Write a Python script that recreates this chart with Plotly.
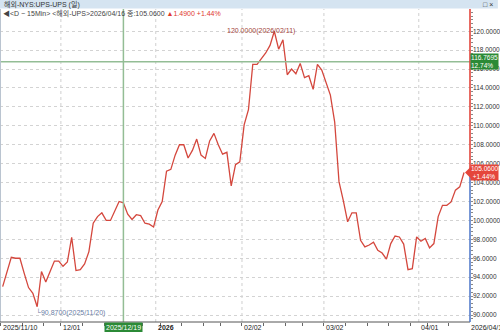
import plotly.graph_objects as go
import pandas as pd

# ---------------- data ----------------
holidays = ["2025-11-27", "2025-12-25", "2026-01-01", "2026-01-19", "2026-02-16", "2026-04-03"]
dates = [d.strftime("%Y-%m-%d") for d in pd.bdate_range("2025-11-10", "2026-04-16")
         if d.strftime("%Y-%m-%d") not in holidays]

close = [
    93.0, 94.7, 96.1, 96.0, 96.0, 94.4, 92.9, 92.3, 90.87, 94.6,
    93.5, 94.6, 95.7, 95.7, 95.15, 95.6, 98.2, 94.7, 94.8, 95.4,
    96.7, 99.7, 100.4, 100.8, 100.0, 100.0, 101.0, 102.0, 101.85, 100.65,
    100.1, 100.6, 100.5, 99.7, 99.6, 99.3, 101.1, 102.0, 105.2, 105.4,
    106.9, 108.0, 108.0, 106.6, 107.4, 108.6, 106.9, 106.55, 108.4, 109.2,
    108.0, 107.0, 107.2, 103.65, 105.9, 106.2, 110.1, 111.7, 116.5, 116.5,
    117.1, 117.7, 118.5, 120.0, 118.1, 119.1, 115.4, 116.0, 115.5, 116.6,
    115.1, 115.3, 113.85, 116.5, 115.9, 114.65, 113.25, 110.4, 104.1, 102.1,
    99.85, 100.8, 100.8, 97.9, 97.2, 97.4, 97.7, 96.85, 96.55, 95.9,
    97.55, 98.35, 98.25, 97.5, 94.8, 94.9, 98.25, 97.8, 98.1, 97.1,
    97.55, 100.4, 101.6, 101.6, 101.95, 103.2, 103.55, 105.06,
]

y_ticks = [90, 92, 94, 96, 98, 100, 102, 104, 106, 108, 110, 112, 114, 116, 118, 120]
month_labels = {
    "2025-11-10": "2025/11/10",
    "2025-12-01": "12/01",
    "2026-01-02": "<b>2026</b>",
    "2026-02-02": "02/02",
    "2026-03-02": "03/02",
    "2026-04-01": "04/01",
}
last_label = "2026/04/16"
cross_date = "2025-12-19"
cross_price = 116.7695
cross_pct = "12.74%"
last_close = 105.06
change = 1.49
change_pct = "+1.44%"
title_text = "해외-NYS:UPS-UPS (일)"

# ---------------- layout helpers ----------------
W, H = 500, 332
PL, PR, PT, PB = 0, 472, 9, 321.7   # plot area in pixels
def px(x):
    return (x - PL) / (PR - PL)
def py(y):
    return (PB - y) / (PB - PT)

xs = list(range(len(dates)))
hi_i = max(xs, key=lambda i: close[i])
lo_i = min(xs, key=lambda i: close[i])
cross_i = dates.index(cross_date)

week_starts = [i for i in xs if i == 0 or pd.Timestamp(dates[i]).weekday() < pd.Timestamp(dates[i - 1]).weekday()]
month_idx = [dates.index(d) for d in month_labels]

RED = "#d4473d"
GREEN_LINE = "#93bd95"
GREEN_BOX = "#2b8a36"
BLUE = "#4a74c9"
FONT = "Liberation Sans, Noto Sans CJK KR, sans-serif"

fig = go.Figure()
fig.add_trace(go.Scatter(x=xs, y=close, mode="lines",
                         line=dict(color=RED, width=1.3), hoverinfo="skip"))

shapes = []
# month dotted gridlines
for i in month_idx[1:]:
    shapes.append(dict(type="line", xref="x", yref="paper", x0=i - 0.5, x1=i - 0.5, y0=0, y1=1,
                       line=dict(color="#cfcfcf", width=1, dash="dot"), layer="below"))
# crosshair
shapes.append(dict(type="line", xref="x", yref="paper", x0=cross_i, x1=cross_i, y0=0, y1=1,
                   line=dict(color=GREEN_LINE, width=1.5)))
shapes.append(dict(type="line", xref="paper", yref="y", x0=0, x1=1, y0=cross_price, y1=cross_price,
                   line=dict(color=GREEN_LINE, width=1.5)))
# left border, bottom axis
shapes.append(dict(type="line", xref="paper", yref="paper", x0=0.001, x1=0.001, y0=0, y1=1,
                   line=dict(color="#b9c3cf", width=1)))
shapes.append(dict(type="line", xref="paper", yref="paper", x0=0, x1=1, y0=0, y1=0,
                   line=dict(color="#555555", width=1)))
# right axis line: red above last price, blue below
shapes.append(dict(type="line", xref="paper", yref="y", x0=1, x1=1, y0=last_close, y1=122.4,
                   line=dict(color="#e0392e", width=1.5)))
shapes.append(dict(type="line", xref="paper", yref="y", x0=1, x1=1, y0=89.2, y1=last_close,
                   line=dict(color=BLUE, width=1.5)))
# last price arrow
shapes.append(dict(type="path", xref="paper", yref="y", xsizemode="pixel", ysizemode="pixel",
                   xanchor=1, yanchor=last_close, path="M -5 0 L 1 6 L 1 -6 Z",
                   fillcolor="#e5463b", line=dict(width=0)))
# header title bar
shapes.append(dict(type="rect", xref="paper", yref="paper", x0=0, x1=px(W), y0=py(8.5), y1=py(0),
                   fillcolor="#d5e4f1", line=dict(width=0)))

annotations = []
# x labels
for d, lab in month_labels.items():
    i = dates.index(d)
    annotations.append(dict(x=max(i - 0.5, -0.55), y=0, xref="x", yref="paper", text=lab,
                            xanchor="left", yanchor="top", showarrow=False, yshift=0,
                            font=dict(size=7, color="#222222", family=FONT)))
annotations.append(dict(x=1, y=0, xref="paper", yref="paper", text=last_label, xanchor="left",
                        yanchor="top", showarrow=False, xshift=-1,
                        font=dict(size=7, color="#222222", family=FONT)))
# crosshair date box
annotations.append(dict(x=cross_i, y=0, xref="x", yref="paper", text=cross_date.replace("-", "/"),
                        xanchor="center", yanchor="top", showarrow=False, bgcolor=GREEN_BOX,
                        borderpad=1, font=dict(size=7, color="white", family=FONT)))
# crosshair price box
annotations.append(dict(x=1, y=cross_price, xref="paper", yref="y",
                        text=f"{cross_price:.4f}<br>{cross_pct}", xanchor="left", yanchor="middle",
                        showarrow=False, bgcolor=GREEN_BOX, borderpad=0, align="left",
                        font=dict(size=6.5, color="white", family=FONT)))
# last price box
annotations.append(dict(x=1, y=last_close, xref="paper", yref="y",
                        text=f"{last_close:.4f}<br> {change_pct}", xanchor="left", yanchor="middle",
                        showarrow=False, bgcolor="#e5463b", borderpad=0, align="left",
                        font=dict(size=6.5, color="white", family=FONT)))
# high / low markers
annotations.append(dict(x=hi_i, y=close[hi_i], xref="x", yref="y",
                        text=f"{close[hi_i]:.4f}({dates[hi_i].replace('-', '/')})",
                        showarrow=True, arrowhead=0, arrowwidth=1, arrowcolor="#a3463d",
                        ax=-13, ay=0, font=dict(size=7, color="#a3463d", family=FONT)))
annotations.append(dict(x=lo_i, y=close[lo_i], xref="x", yref="y",
                        text=f"└{close[lo_i]:.4f}({dates[lo_i].replace('-', '/')})",
                        showarrow=False, xanchor="left", yanchor="top", xshift=-3, yshift=1,
                        font=dict(size=7, color="#6a7ea6", family=FONT)))
# header
annotations.append(dict(x=px(2), y=py(4.5), xref="paper", yref="paper", text=title_text,
                        xanchor="left", yanchor="middle", showarrow=False,
                        font=dict(size=7, color="#333333", family=FONT)))
annotations.append(dict(x=px(497), y=py(4.5), xref="paper", yref="paper", text="□ ×",
                        xanchor="right", yanchor="middle", showarrow=False,
                        font=dict(size=7, color="#333333", family=FONT)))
annotations.append(dict(x=px(1), y=py(13.5), xref="paper", yref="paper",
                        text=(f"◀&lt;D − 15Min&gt; &lt;해외-UPS&gt;{dates[-1].replace('-', '/')} 종:{last_close:.4f} "
                              f"<span style='color:#e0392e'>▲{change:.4f} {change_pct}</span>"),
                        xanchor="left", yanchor="middle", showarrow=False,
                        font=dict(size=7, color="#444444", family=FONT)))

fig.update_layout(
    width=W, height=H,
    margin=dict(l=PL, r=W - PR, t=PT, b=H - PB),
    paper_bgcolor="white", plot_bgcolor="white",
    showlegend=False,
    shapes=shapes, annotations=annotations,
    xaxis=dict(range=[-0.62, 108.38], showgrid=False, zeroline=False, showticklabels=False,
               tickmode="array", tickvals=[i - 0.5 for i in week_starts], ticks="outside",
               ticklen=3, tickcolor="#666666", showline=False),
    yaxis=dict(side="right", range=[89.26, 122.35], tickmode="array", tickvals=y_ticks,
               ticktext=[f"{v:.4f}" for v in y_ticks], showgrid=True, gridcolor="#d3d3d3",
               griddash="dot", gridwidth=1, zeroline=False, ticks="", showline=False,
               ticklabelstandoff=2,
               tickfont=dict(size=6.5, color="#333333", family=FONT),
               minor=dict(dtick=0.4, ticks="outside", ticklen=2, tickcolor="#888888", showgrid=False)),
)

fig.write_html("out.html")
